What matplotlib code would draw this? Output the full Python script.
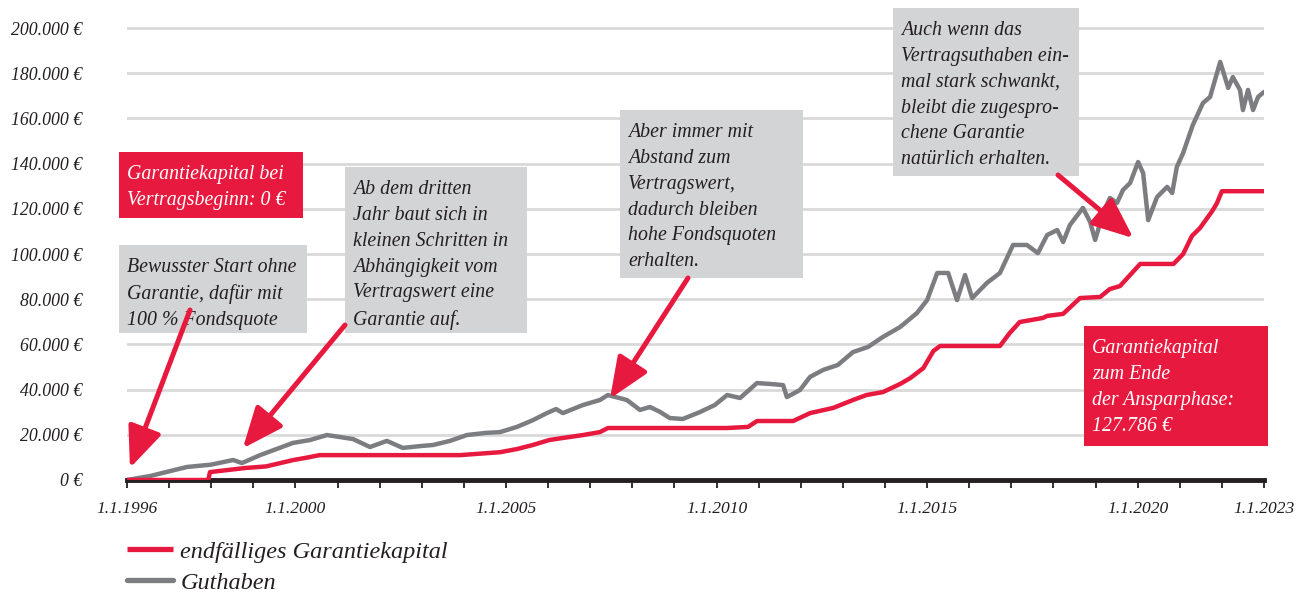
import matplotlib
matplotlib.use("Agg")
import matplotlib.pyplot as plt
from matplotlib.patches import Rectangle, FancyArrowPatch

# ---------------- data ----------------
guthaben_years = [1996.00, 1996.55, 1997.42, 1998.00, 1998.52, 1998.73, 1999.16, 1999.94, 2000.35, 2000.75,
                  2001.06, 2001.37, 2001.77, 2002.17, 2002.55, 2002.96, 2003.27, 2003.67, 2004.07, 2004.50,
                  2004.86, 2005.26, 2005.64, 2005.97, 2006.19, 2006.35, 2006.83, 2007.23, 2007.42, 2007.87,
                  2008.18, 2008.42, 2008.66, 2008.89, 2009.20, 2009.61, 2009.96, 2010.25, 2010.56, 2010.96,
                  2011.27, 2011.58, 2011.67, 2011.98, 2012.22, 2012.53, 2012.88, 2013.24, 2013.60, 2013.95,
                  2014.36, 2014.76, 2015.00, 2015.24, 2015.50, 2015.71, 2015.90, 2016.07, 2016.42, 2016.73,
                  2017.04, 2017.37, 2017.63, 2017.85, 2018.09, 2018.23, 2018.39, 2018.70, 2018.87, 2018.99,
                  2019.18, 2019.34, 2019.51, 2019.65, 2019.82, 2020.01, 2020.13, 2020.25, 2020.46, 2020.70,
                  2020.82, 2020.93, 2021.08, 2021.31, 2021.55, 2021.72, 2021.96, 2022.15, 2022.26, 2022.43,
                  2022.50, 2022.62, 2022.74, 2022.86, 2023.00]
guthaben_values = [0, 1770, 5750, 6800, 8850, 7500, 11000, 16400, 17700, 19900,
                   19000, 18100, 14600, 17300, 14200, 15000, 15500, 17300, 19900, 20800,
                   21200, 23500, 26500, 29600, 31400, 29600, 33200, 35400, 37600, 35400,
                   31000, 32300, 30100, 27400, 27000, 30100, 33200, 37600, 36300, 42900,
                   42500, 42000, 36700, 39800, 45600, 48700, 50900, 56600, 58900, 63300,
                   67700, 73900, 79600, 91600, 91600, 79600, 90700, 80500, 87200, 91600,
                   104000, 104000, 100400, 108400, 110600, 105300, 112800, 120400, 114200, 106200,
                   118100, 124800, 122600, 128300, 131400, 140700, 135800, 115000, 125200, 129700,
                   127000, 138500, 144700, 157100, 166800, 169500, 185000, 173500, 178300, 172600,
                   163700, 172600, 163700, 169500, 171700]

garantie_years = [1996.00, 1997.93, 1997.97, 1998.80, 1999.30, 1999.94, 2000.30, 2000.57, 2003.90, 2004.86,
                  2005.26, 2005.64, 2006.03, 2006.35, 2006.83, 2007.23, 2007.42, 2010.25, 2010.75, 2010.96,
                  2011.82, 2012.22, 2012.77, 2013.24, 2013.56, 2013.95, 2014.36, 2014.60, 2014.91, 2015.15,
                  2015.31, 2016.73, 2016.96, 2017.20, 2017.75, 2017.85, 2018.23, 2018.39, 2018.63, 2019.11,
                  2019.34, 2019.58, 2019.82, 2020.06, 2020.85, 2021.08, 2021.29, 2021.48, 2021.60, 2021.77,
                  2021.88, 2022.00, 2023.00]
garantie_values = [0, 0, 3500, 5300, 6000, 8800, 10000, 11000, 11000, 12300,
                   13700, 15500, 17700, 18600, 19900, 21200, 23000, 23000, 23500, 26100,
                   26100, 29600, 31900, 35400, 37600, 38900, 42500, 45100, 49500, 57100,
                   59300, 59300, 65000, 69900, 71700, 72600, 73500, 76300, 80500, 81000,
                   84500, 85800, 90700, 95600, 95600, 100000, 108000, 111500, 114600, 119000,
                   122400, 127786, 127786]

x_tick_years = list(range(1996, 2024))
x_label_years = [1996, 2000, 2005, 2010, 2015, 2020, 2023]
y_ticks = [0, 20000, 40000, 60000, 80000, 100000, 120000, 140000, 160000, 180000, 200000]
y_tick_labels = ["0 €", "20.000 €", "40.000 €", "60.000 €", "80.000 €", "100.000 €",
                 "120.000 €", "140.000 €", "160.000 €", "180.000 €", "200.000 €"]
legend_labels = ["endfälliges Garantiekapital", "Guthaben"]

# ---------------- style ----------------
W, H = 1306, 595
RED = "#e8193e"
GRAY_LINE = "#7b7d81"
GRAY_BOX = "#d3d4d6"
DARK = "#231f20"
FONT = ["Liberation Serif", "DejaVu Serif"]
plt.rcParams["font.family"] = FONT
plt.rcParams["font.style"] = "italic"

fig = plt.figure(figsize=(W / 100, H / 100), dpi=100)
ymax = 201000
top_px = 480 - (480 - 28) * ymax / 200000
ax = fig.add_axes([127 / W, 1 - 480 / H, (1264 - 127) / W, (480 - top_px) / H])

l_g, = ax.plot(garantie_years, garantie_values, color=RED, lw=3.2, solid_capstyle="butt", zorder=4)
l_s, = ax.plot(guthaben_years, guthaben_values, color=GRAY_LINE, lw=3.2, solid_capstyle="round", zorder=3)

ax.set_xlim(1996, 2023)
ax.set_ylim(0, ymax)
ax.set_yticks(y_ticks)
ax.set_yticklabels(y_tick_labels)
ax.set_xticks(x_tick_years)
ax.set_xticklabels([f"1.1.{y}" if y in x_label_years else "" for y in x_tick_years])
ax.yaxis.grid(True, color="#d9d9d9", lw=2)
ax.set_axisbelow(True)
for s in ["top", "right", "left"]:
    ax.spines[s].set_visible(False)
ax.spines["bottom"].set_linewidth(3.5)
ax.spines["bottom"].set_color(DARK)
ax.tick_params(axis="y", length=0, pad=32, labelsize=12.8, labelcolor=DARK)
ax.tick_params(axis="x", length=6, width=1.3, color=DARK, pad=9, labelsize=12.6, labelcolor=DARK)
for t in ax.get_yticklabels() + ax.get_xticklabels():
    t.set_fontstyle("italic")


def fp(x, y):
    return (x / W, 1 - y / H)


def box(x0, y0, x1, y1, color, text, tcolor):
    fig.patches.append(Rectangle(fp(x0, y1), (x1 - x0) / W, (y1 - y0) / H,
                                 transform=fig.transFigure, facecolor=color, edgecolor="none", zorder=5))
    fig.text(*fp(x0 + 8, y0 + 13), text, ha="left", va="top", fontsize=14.3, color=tcolor,
             style="italic", linespacing=1.49, zorder=6)


box(119, 152, 303, 218, RED, "Garantiekapital bei\nVertragsbeginn: 0 €", "white")
box(119, 245, 307, 333, GRAY_BOX, "Bewusster Start ohne\nGarantie, dafür mit\n100 % Fondsquote", DARK)
box(345, 167, 527, 333, GRAY_BOX,
    "Ab dem dritten\nJahr baut sich in\nkleinen Schritten in\nAbhängigkeit vom\nVertragswert eine\nGarantie auf.", DARK)
box(620, 110, 803, 278, GRAY_BOX,
    "Aber immer mit\nAbstand zum\nVertragswert,\ndadurch bleiben\nhohe Fondsquoten\nerhalten.", DARK)
box(893, 8, 1079, 176, GRAY_BOX,
    "Auch wenn das\nVertragsuthaben ein-\nmal stark schwankt,\nbleibt die zugespro-\nchene Garantie\nnatürlich erhalten.", DARK)
box(1084, 326, 1268, 446, RED,
    "Garantiekapital\nzum Ende\nder Ansparphase:\n127.786 €", "white")


def arrow(tail_px, tip_data):
    a = FancyArrowPatch(posA=fp(*tail_px), posB=tip_data,
                        arrowstyle="-|>,head_length=2.5,head_width=1.05",
                        mutation_scale=10, lw=3.6, color=RED, shrinkA=0, shrinkB=0,
                        zorder=7)
    a.set_positions(fig.transFigure.transform(fp(*tail_px)), ax.transData.transform(tip_data))
    a.set_transform(None)
    fig.patches.append(a)


arrow((190, 310), (1996.07, 5300))
arrow((345, 325), (1998.75, 14000))
arrow((688, 278), (2007.47, 36000))
arrow((1058, 175), (2019.9, 107000))

leg = fig.legend([l_g, l_s], legend_labels, loc="upper left", bbox_to_anchor=fp(105, 519),
                 frameon=False, handlelength=1.9, handletextpad=0.3,
                 labelspacing=0.37, prop={"family": FONT, "style": "italic", "size": 17.5})
for line in leg.get_lines():
    line.set_linewidth(3.8)
for t in leg.get_texts():
    t.set_color(DARK)

fig.savefig("out.png", dpi=100)
